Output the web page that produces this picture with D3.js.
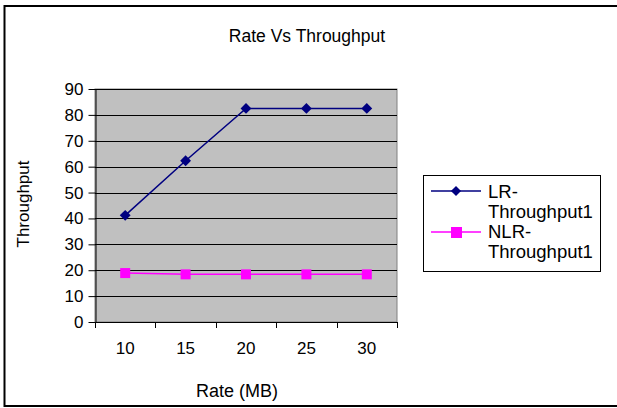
<!DOCTYPE html>
<html>
<head>
<meta charset="utf-8">
<script src="https://cdn.jsdelivr.net/npm/d3@7"></script>
<style>
  html, body { margin: 0; padding: 0; background: #fff; }
  svg { display: block; font-family: "Liberation Sans", Arial, sans-serif; }
</style>
</head>
<body>
<svg id="chart" width="617" height="408"></svg>
<script>
// Rates (MB) on the category axis
const rates = ["10", "15", "20", "25", "30"];
// Throughput per rate for each routing scheme
const lrThroughput = [41.2, 62.3, 82.5, 82.5, 82.5];
const nlrThroughput = [18.9, 18.4, 18.4, 18.4, 18.4];
const yTicks = [0, 10, 20, 30, 40, 50, 60, 70, 80, 90];
const seriesNames = ["LR-Throughput1", "NLR-Throughput1"];

const svg = d3.select("#chart");

// outer chart frame
svg.append("rect")
  .attr("x", 4.5).attr("y", 6).attr("width", 620).attr("height", 400)
  .attr("fill", "#fff").attr("stroke", "#000").attr("stroke-width", 2);

const plot = { left: 95, right: 397, top: 89, bottom: 322 };

const x = d3.scaleBand().domain(rates).range([plot.left, plot.right]);
const y = d3.scaleLinear().domain([0, 90]).range([plot.bottom, plot.top]);

// plot area background
svg.append("rect")
  .attr("x", plot.left).attr("y", plot.top)
  .attr("width", plot.right - plot.left).attr("height", plot.bottom - plot.top)
  .attr("fill", "#c0c0c0").attr("stroke", "#808080").attr("stroke-width", 1);

// horizontal gridlines
svg.append("g").selectAll("line").data(yTicks.slice(1)).join("line")
  .attr("x1", plot.left).attr("x2", plot.right)
  .attr("y1", d => Math.round(y(d)) + 0.5).attr("y2", d => Math.round(y(d)) + 0.5)
  .attr("stroke", "#000").attr("stroke-width", 1);

// y axis
const yAxis = svg.append("g")
  .attr("transform", `translate(${plot.left + 0.5},0)`)
  .call(d3.axisLeft(y).tickValues(yTicks).tickSize(7).tickPadding(5).tickSizeOuter(0));
yAxis.select(".domain").attr("stroke", "#000");
yAxis.selectAll(".tick line").attr("stroke", "#000");
yAxis.selectAll("text").attr("font-size", 17).attr("fill", "#000")
  .attr("font-family", "Liberation Sans, Arial, sans-serif");

// x axis: ticks at category boundaries
const boundaries = rates.map(r => x(r)).concat([plot.right]);
const xg = svg.append("g");
xg.append("line")
  .attr("x1", plot.left).attr("x2", plot.right)
  .attr("y1", plot.bottom + 0.5).attr("y2", plot.bottom + 0.5)
  .attr("stroke", "#000");
xg.selectAll("line.tk").data(boundaries).join("line").attr("class", "tk")
  .attr("x1", d => Math.round(d) + 0.5).attr("x2", d => Math.round(d) + 0.5)
  .attr("y1", plot.bottom).attr("y2", plot.bottom + 6)
  .attr("stroke", "#000");
xg.selectAll("text").data(rates).join("text")
  .attr("x", d => x(d) + x.bandwidth() / 2)
  .attr("y", 354)
  .attr("text-anchor", "middle").attr("font-size", 17).attr("fill", "#000")
  .text(d => d);

// titles
svg.append("text").attr("x", 307).attr("y", 42).attr("text-anchor", "middle")
  .attr("font-size", 17.5).text("Rate Vs Throughput");
svg.append("text").attr("x", 237).attr("y", 397).attr("text-anchor", "middle")
  .attr("font-size", 18).text("Rate (MB)");
svg.append("text")
  .attr("transform", "translate(29,204) rotate(-90)")
  .attr("text-anchor", "middle").attr("font-size", 17).text("Throughput");

const cx = d => x(d) + x.bandwidth() / 2;
const line = d3.line().x((d, i) => cx(rates[i])).y(d => y(d));

// LR series: navy line with diamonds
svg.append("path").datum(lrThroughput).attr("d", line)
  .attr("fill", "none").attr("stroke", "#000080").attr("stroke-width", 1.5);
svg.append("g").selectAll("path").data(lrThroughput).join("path")
  .attr("d", d3.symbol(d3.symbolDiamond2, 75))
  .attr("transform", (d, i) => `translate(${cx(rates[i])},${y(d)})`)
  .attr("fill", "#000080");

// NLR series: magenta line with squares
svg.append("path").datum(nlrThroughput).attr("d", line)
  .attr("fill", "none").attr("stroke", "#ff00ff").attr("stroke-width", 1.5);
svg.append("g").selectAll("rect").data(nlrThroughput).join("rect")
  .attr("x", (d, i) => cx(rates[i]) - 5).attr("y", d => y(d) - 5)
  .attr("width", 10).attr("height", 10)
  .attr("fill", "#ff00ff");

// legend
const lg = svg.append("g");
lg.append("rect").attr("x", 423.5).attr("y", 175.5).attr("width", 177).attr("height", 96)
  .attr("fill", "#fff").attr("stroke", "#000").attr("stroke-width", 1);
const legendItems = [
  { name: seriesNames[0], color: "#000080", sym: "diamond", y: 191, ty: 198 },
  { name: seriesNames[1], color: "#ff00ff", sym: "square", y: 232, ty: 238 }
];
legendItems.forEach(it => {
  lg.append("line").attr("x1", 431).attr("x2", 481).attr("y1", it.y).attr("y2", it.y)
    .attr("stroke", it.color).attr("stroke-width", 1.5);
  if (it.sym === "diamond") {
    lg.append("path").attr("d", d3.symbol(d3.symbolDiamond2, 65))
      .attr("transform", `translate(456,${it.y})`).attr("fill", it.color);
  } else {
    lg.append("rect").attr("x", 451).attr("y", it.y - 5).attr("width", 11).attr("height", 11)
      .attr("fill", it.color);
  }
  const parts = it.name.split("-");
  const t = lg.append("text").attr("font-size", 18.5).attr("fill", "#000");
  t.append("tspan").attr("x", 488).attr("y", it.ty).text(parts[0] + "-");
  t.append("tspan").attr("x", 488).attr("y", it.ty + 20).text(parts[1]);
});
</script>
</body>
</html>
